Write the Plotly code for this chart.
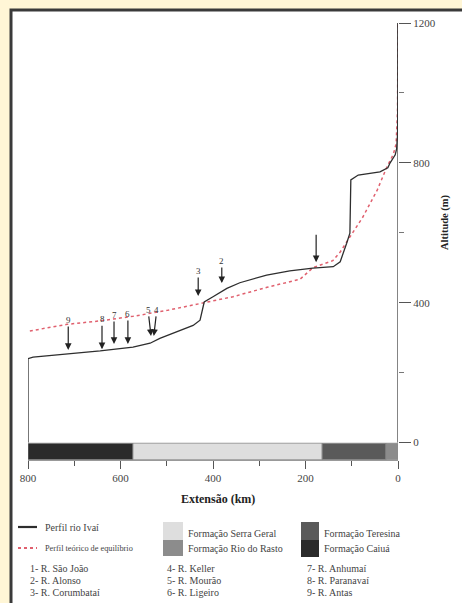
import plotly.graph_objects as go

# ---------------- data ----------------
profile_km = [800, 800, 789, 716, 644, 573, 536, 515, 478, 443, 428, 424, 419, 400, 370, 342,
              284, 234, 184, 140, 125, 111, 104, 102, 86, 39, 22, 17, 6, 3, 1, 0.3, 0]
profile_m = [0, 240, 244, 252, 262, 273, 284, 298, 316, 335, 350, 378, 402, 417, 441, 457,
             479, 491, 499, 503, 517, 570, 599, 751, 765, 774, 786, 800, 823, 840, 880, 1000, 1200]

theory_km = [796, 716, 644, 573, 499, 428, 357, 283, 212, 184, 141, 125, 104, 76, 45, 24, 10, 4, 1, 0]
theory_m = [319, 338, 348, 361, 378, 398, 417, 444, 467, 500, 520, 545, 588, 645, 722, 788, 825, 855, 950, 1200]

formation_names = ["Formação Caiuá", "Formação Serra Geral", "Formação Teresina", "Formação Rio do Rasto"]
formation_from_km = [800, 573, 164, 26]
formation_to_km = [573, 164, 26, 0]

trib_numbers = ["9", "8", "7", "6", "5", "4", "3", "2", "1"]
trib_km = [713, 640, 614, 584, 534, 528, 432, 381, 177]
trib_m = [265, 267, 282, 282, 305, 305, 419, 456, 516]

trib_names = ["1- R. São João", "2- R. Alonso", "3- R. Corumbataí",
              "4- R. Keller", "5- R. Mourão", "6- R. Ligeiro",
              "7- R. Anhumaí", "8- R. Paranavaí", "9- R. Antas"]

x_ticks = [800, 600, 400, 200, 0]
x_minor = [700, 500, 300, 100]
y_ticks = [0, 400, 800, 1200]
y_minor = [200, 600, 1000]

# ---------------- styling ----------------
FONT = "Liberation Serif"
formation_colors = {"Formação Caiuá": "#2b2b2b", "Formação Serra Geral": "#dedede",
                    "Formação Teresina": "#5a5a5a", "Formação Rio do Rasto": "#8c8c8c"}
# label placement (pixel offsets of number above arrow head)
trib_ay = [-30, -30, -29, -30, -26, -26, -25, -22, -34]
trib_ax = [0, 0, 0, 0, -3, 3, 0, 0, 0]

W, H = 462, 603
L, R, T, B = 28, 64, 23, 143
PW, PH = W - L - R, H - T - B


def px(x):
    return (x - L) / PW


def py(y):
    return (H - B - y) / PH


fig = go.Figure()

# geology bar
for name, a, b in zip(formation_names, formation_from_km, formation_to_km):
    fig.add_trace(go.Scatter(
        x=[a, b, b, a, a], y=[-49, -49, -2, -2, -49], mode="lines", fill="toself",
        fillcolor=formation_colors[name], line=dict(color="#8a8a8a", width=0.8),
        hoverinfo="skip", showlegend=False))

# theoretical profile
fig.add_trace(go.Scatter(x=theory_km, y=theory_m, mode="lines",
                         line=dict(color="#e0606e", width=1.5, dash="dot"),
                         showlegend=False))
# river profile
fig.add_trace(go.Scatter(x=profile_km, y=profile_m, mode="lines",
                         line=dict(color="#2e2e2e", width=1.3), showlegend=False))

shapes = []
# white framed panel
shapes.append(dict(type="rect", xref="paper", yref="paper", x0=px(11), x1=px(480),
                   y0=py(615), y1=py(10), fillcolor="white",
                   line=dict(color="#3a3a3a", width=3), layer="below"))
# right axis line
shapes.append(dict(type="line", xref="x", yref="y", x0=0, x1=0, y0=0, y1=1200,
                   line=dict(color="#333", width=1.2)))

annotations = []
# tributary arrows
for n, k, m, ax, ay in zip(trib_numbers, trib_km, trib_m, trib_ax, trib_ay):
    annotations.append(dict(x=k, y=m, xref="x", yref="y", text=n if n != "1" else " ",
                            showarrow=True, arrowhead=2, arrowsize=1.1, arrowwidth=1.2,
                            arrowcolor="#222", ax=ax, ay=ay,
                            font=dict(family=FONT, size=9, color="#333")))

# axis titles
annotations.append(dict(x=px(218), y=py(508), xref="paper", yref="paper",
                        text="<b>Extensão (km)</b>", showarrow=False,
                        font=dict(family=FONT, size=12, color="#222")))
annotations.append(dict(x=px(453), y=py(222), xref="paper", yref="paper",
                        text="<b>Altitude (m)</b>", showarrow=False, textangle=-90,
                        font=dict(family=FONT, size=10.5, color="#222")))

# legend: line samples
shapes.append(dict(type="line", xref="paper", yref="paper", x0=px(18), x1=px(37),
                   y0=py(527), y1=py(527), line=dict(color="#2e2e2e", width=2.2)))
shapes.append(dict(type="line", xref="paper", yref="paper", x0=px(18), x1=px(37),
                   y0=py(548), y1=py(548), line=dict(color="#e0606e", width=1.8, dash="dot")))
leg_font = dict(family=FONT, size=10, color="#444")
annotations.append(dict(x=px(43), y=py(527), xref="paper", yref="paper", text="Perfil rio Ivaí",
                        showarrow=False, xanchor="left", yanchor="middle", font=leg_font))
annotations.append(dict(x=px(43), y=py(548), xref="paper", yref="paper",
                        text="Perfil teórico de equilíbrio",
                        showarrow=False, xanchor="left", yanchor="middle",
                        font=dict(family=FONT, size=8.3, color="#444")))

# legend: formation boxes
box_spec = [("Formação Serra Geral", 163, 183, 522, 540, 533),
            ("Formação Rio do Rasto", 163, 183, 540, 556, 548),
            ("Formação Teresina", 301, 319, 522, 540, 533),
            ("Formação Caiuá", 301, 319, 540, 557, 548)]
for name, x0, x1, y0, y1, ty in box_spec:
    shapes.append(dict(type="rect", xref="paper", yref="paper", x0=px(x0), x1=px(x1),
                       y0=py(y1), y1=py(y0), fillcolor=formation_colors[name],
                       line=dict(width=0)))
    annotations.append(dict(x=px(x1 + 3), y=py(ty), xref="paper", yref="paper", text=name,
                            showarrow=False, xanchor="left", yanchor="middle", font=leg_font))

# legend: tributary list
cols_x = [28, 165, 305]
rows_y = [568, 580, 592]
for i, name in enumerate(trib_names):
    annotations.append(dict(x=px(cols_x[i // 3]), y=py(rows_y[i % 3]), xref="paper", yref="paper",
                            text=name, showarrow=False, xanchor="left", yanchor="middle",
                            font=leg_font))

fig.update_layout(
    width=W, height=H, margin=dict(l=L, r=R, t=T, b=B),
    paper_bgcolor="#fff6d6", plot_bgcolor="white",
    shapes=shapes, annotations=annotations, showlegend=False,
    xaxis=dict(range=[800, 0], tickvals=x_ticks, ticks="outside", ticklen=8, tickwidth=1,
               tickcolor="#555", minor=dict(tickvals=x_minor, ticks="outside", ticklen=5,
                                            tickcolor="#555"),
               showline=True, linecolor="#999", linewidth=1, showgrid=False, zeroline=False,
               tickfont=dict(family=FONT, size=11, color="#444")),
    yaxis=dict(range=[-50, 1200], side="right", tickvals=y_ticks, ticks="outside", ticklen=12,
               tickcolor="#555", minor=dict(tickvals=y_minor, ticks="outside", ticklen=5,
                                            tickcolor="#777"),
               showline=False, showgrid=False, zeroline=False,
               tickfont=dict(family=FONT, size=11, color="#444")),
)

fig.write_html("out.html", config={"displayModeBar": False},
               post_script="document.body.style.margin='0px';document.body.style.overflow='hidden';")
